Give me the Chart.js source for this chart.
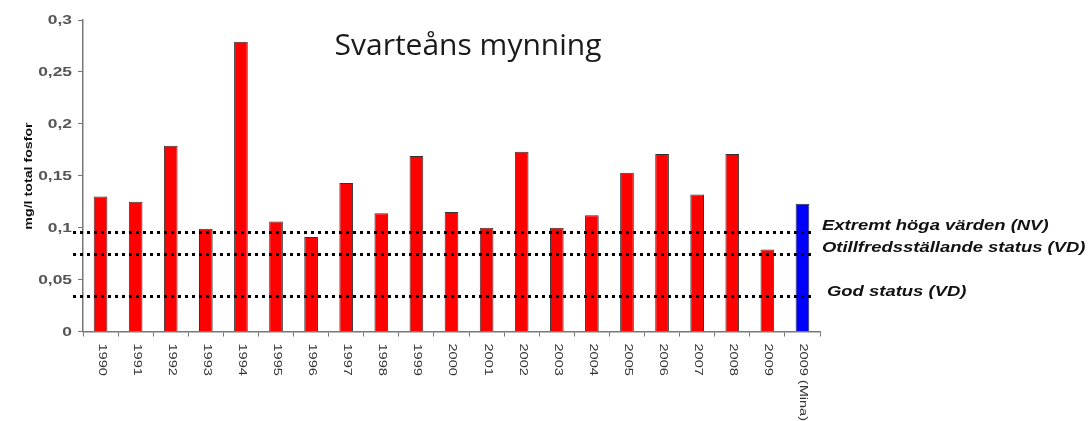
<!DOCTYPE html>
<html>
<head>
<meta charset="utf-8">
<script src="https://cdn.jsdelivr.net/npm/chart.js@4"></script>
<style>
  body { margin: 0; background: #fff; }
</style>
</head>
<body>
<canvas id="chart" width="1091" height="421"></canvas>
<script>
const years = ['1990', '1991', '1992', '1993', '1994', '1995', '1996', '1997', '1998', '1999',
  '2000', '2001', '2002', '2003', '2004', '2005', '2006', '2007', '2008', '2009', '2009 (Mina)'];
const phosphorus = [0.130, 0.125, 0.179, 0.099, 0.279, 0.106, 0.091, 0.143, 0.114, 0.169,
  0.115, 0.100, 0.173, 0.100, 0.112, 0.153, 0.171, 0.132, 0.171, 0.079, 0.123];
const barColors = years.map(y => y.includes('Mina') ? '#0000ff' : '#ff0000');
const limitValues = [0.096, 0.075, 0.034];
const limitLabels = ['Extremt höga värden (NV)', 'Otillfredsställande status (VD)', 'God status (VD)'];
const yTicks = [0, 0.05, 0.1, 0.15, 0.2, 0.25, 0.3];
const chartTitle = 'Svarteåns mynning';
const yTitle = 'mg/l total fosfor';

const fmt = v => String(Math.round(v * 100) / 100).replace('.', ',');

// the excel part of the picture is stretched, so text gets drawn with a scale
function stretchedText(ctx, text, x, y, sx, rot) {
  ctx.save();
  ctx.translate(x, y);
  if (rot) ctx.rotate(rot);
  ctx.scale(sx, 1);
  ctx.fillText(text, 0, 0);
  ctx.restore();
}

const decorations = {
  id: 'decorations',
  afterDatasetsDraw(chart) {
    const ctx = chart.ctx;
    const x = chart.scales.x;
    const y = chart.scales.y;
    ctx.save();

    // dotted limit lines
    ctx.strokeStyle = '#000';
    ctx.lineWidth = 3;
    ctx.setLineDash([3, 4]);
    limitValues.forEach(v => {
      const py = Math.round(y.getPixelForValue(v)) + 0.5;
      ctx.beginPath();
      ctx.moveTo(73, py);
      ctx.lineTo(812, py);
      ctx.stroke();
    });
    ctx.setLineDash([]);

    // limit labels
    ctx.fillStyle = '#111';
    ctx.font = 'italic bold 15px "Liberation Sans", Arial, sans-serif';
    ctx.textAlign = 'left';
    ctx.textBaseline = 'middle';
    const offs = [-6, -6, -4];
    const lx = [822, 822, 827];
    limitValues.forEach((v, i) => {
      stretchedText(ctx, limitLabels[i], lx[i], y.getPixelForValue(v) + offs[i], 1.23);
    });

    // y tick labels
    ctx.fillStyle = '#555';
    ctx.font = 'bold 12px "Liberation Sans", Arial, sans-serif';
    ctx.textAlign = 'right';
    ctx.textBaseline = 'middle';
    yTicks.forEach(v => {
      stretchedText(ctx, fmt(v), 72, y.getPixelForValue(v) + 1, 1.45);
    });

    // year labels, rotated clockwise
    ctx.fillStyle = '#333';
    ctx.font = '11px "Liberation Sans", Arial, sans-serif';
    ctx.textAlign = 'left';
    ctx.textBaseline = 'middle';
    years.forEach((lab, i) => {
      stretchedText(ctx, lab, x.getPixelForValue(i) + 1, y.bottom + 12, 1.32, Math.PI / 2);
    });

    // y axis title
    ctx.fillStyle = '#111';
    ctx.font = 'bold 10px "Liberation Sans", Arial, sans-serif';
    ctx.textAlign = 'center';
    stretchedText(ctx, yTitle, 29, 176, 1.42, -Math.PI / 2);

    // chart title
    ctx.fillStyle = '#1a1a1a';
    ctx.font = '30px "Open Sans", sans-serif';
    ctx.textAlign = 'center';
    ctx.textBaseline = 'alphabetic';
    ctx.fillText(chartTitle, 468, 55);

    ctx.restore();
  }
};

new Chart(document.getElementById('chart'), {
  type: 'bar',
  data: {
    labels: years,
    datasets: [{
      data: phosphorus,
      backgroundColor: barColors,
      borderColor: '#333',
      borderWidth: 1,
      barPercentage: 0.78,
      categoryPercentage: 0.5
    }]
  },
  options: {
    responsive: false,
    animation: false,
    layout: { padding: { top: 20, right: 271, left: 0, bottom: 0 } },
    plugins: {
      legend: { display: false },
      tooltip: { enabled: false }
    },
    scales: {
      x: {
        grid: { drawOnChartArea: false, tickLength: 5, color: '#777', offset: true },
        border: { color: '#777', width: 1.5 },
        ticks: { display: false },
        afterFit: s => { s.height = 89.5; }
      },
      y: {
        min: 0,
        max: 0.3,
        afterBuildTicks: s => { s.ticks = yTicks.map(v => ({ value: v })); },
        grid: { drawOnChartArea: false, tickLength: 5, color: '#777' },
        border: { color: '#777', width: 1.5 },
        ticks: { display: false },
        afterFit: s => { s.width = 83; }
      }
    }
  },
  plugins: [decorations]
});
</script>
</body>
</html>
